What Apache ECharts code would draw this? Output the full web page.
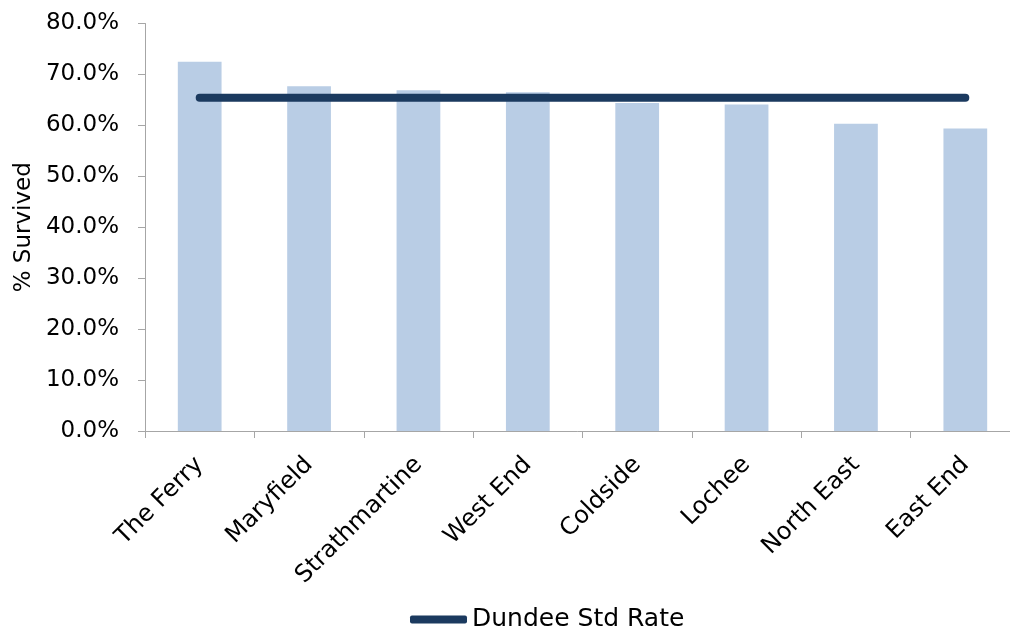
<!DOCTYPE html>
<html>
<head>
<meta charset="utf-8">
<script src="https://cdn.jsdelivr.net/npm/echarts@6/dist/echarts.min.js"></script>
<style>html,body{margin:0;padding:0;background:#fff}#c{width:1010px;height:631px}</style>
</head>
<body>
<div id="c"></div>
<script>
const categories = ['The Ferry','Maryfield','Strathmartine','West End','Coldside','Lochee','North East','East End'];
const survived = [72.5, 67.7, 66.9, 66.5, 64.4, 64.1, 60.3, 59.4];
const dundeeRate = [65.4, 65.4, 65.4, 65.4, 65.4, 65.4, 65.4, 65.4];
const yTicks = [0, 10, 20, 30, 40, 50, 60, 70, 80];

const FONT = 'DejaVu Sans';
const chart = echarts.init(document.getElementById('c'));
chart.setOption({
  animation: false,
  textStyle: { fontFamily: FONT },
  grid: { left: 145, width: 875, top: 23.5, bottom: 200, containLabel: false, outerBoundsMode: 'none' },
  legend: {
    data: ['Dundee Std Rate'],
    bottom: -1, left: 410, padding: 0,
    icon: 'roundRect', itemWidth: 57, itemHeight: 8, itemGap: 3,
    textStyle: { fontSize: 25, color: '#000', fontFamily: FONT }
  },
  xAxis: {
    type: 'category', data: categories,
    axisLine: { lineStyle: { color: '#A6A6A6', width: 1 } },
    axisTick: { show: true, alignWithLabel: false, length: 7, lineStyle: { color: '#A6A6A6' } },
    axisLabel: { rotate: 45, fontSize: 24, color: '#000', margin: 30, interval: 0, fontFamily: FONT }
  },
  yAxis: {
    type: 'value', min: yTicks[0], max: yTicks[yTicks.length - 1], interval: 10,
    name: '% Survived', nameLocation: 'middle', nameGap: 94, nameRotate: 90,
    nameTextStyle: { fontSize: 23, color: '#000', fontFamily: FONT },
    axisLine: { show: true, lineStyle: { color: '#A6A6A6' } },
    axisTick: { show: true, length: 7, lineStyle: { color: '#A6A6A6' } },
    splitLine: { show: false },
    axisLabel: { fontSize: 23, color: '#000', margin: 26, fontFamily: FONT,
      formatter: v => v.toFixed(1) + '%' }
  },
  series: [
    {
      name: '% Survived', type: 'bar', data: survived, barWidth: '40%',
      itemStyle: { color: '#B9CDE5' }
    },
    {
      name: 'Dundee Std Rate', type: 'line', data: dundeeRate,
      symbol: 'none', color: '#1B3A5F',
      lineStyle: { width: 8, color: '#1B3A5F', cap: 'round' },
      itemStyle: { color: '#1B3A5F' }
    }
  ]
});
</script>
</body>
</html>
